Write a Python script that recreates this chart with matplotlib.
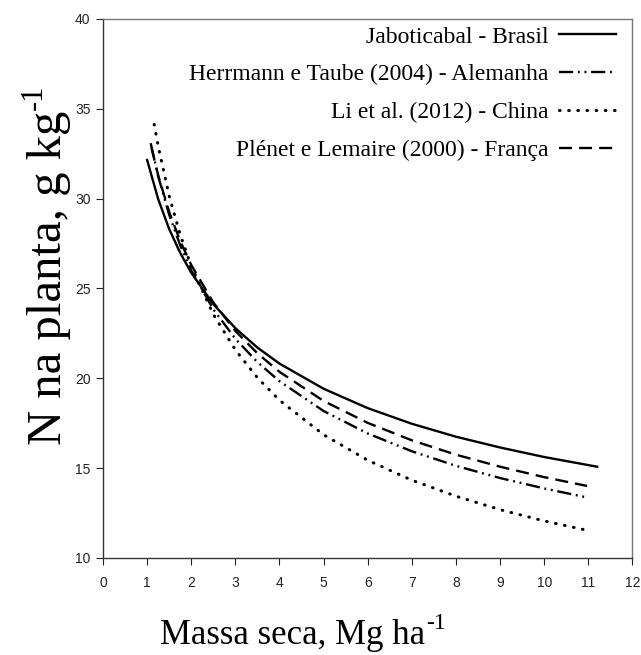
import matplotlib
matplotlib.use("Agg")
import matplotlib.pyplot as plt
from matplotlib.transforms import IdentityTransform

# Values
x_jab = [1.0, 1.25, 1.5, 1.75, 2, 2.5, 3, 3.5, 4, 5, 6, 7, 8, 9, 10, 11, 11.2]
y_jab = [32.15, 29.98, 28.31, 26.98, 25.87, 24.13, 22.79, 21.71, 20.82, 19.42,
         18.34, 17.47, 16.75, 16.15, 15.62, 15.17, 15.08]

x_her = [1.08, 1.25, 1.5, 1.75, 2, 2.5, 3, 3.5, 4, 5, 6, 7, 8, 9, 10, 10.97]
y_her = [33.09, 31.25, 29.10, 27.40, 26.01, 23.84, 22.20, 20.90, 19.84, 18.18,
         16.93, 15.94, 15.13, 14.45, 13.87, 13.37]

x_li = [1.16, 1.25, 1.5, 1.75, 2, 2.5, 3, 3.5, 4, 5, 6, 7, 8, 9, 10, 11.03]
y_li = [34.13, 32.93, 30.15, 27.99, 26.24, 23.56, 21.58, 20.03, 18.78, 16.86,
        15.44, 14.33, 13.44, 12.69, 12.06, 11.51]

x_ple = [1.1, 1.25, 1.5, 1.75, 2, 2.5, 3, 3.5, 4, 5, 6, 7, 8, 9, 10, 10.97]
y_ple = [32.82, 31.30, 29.26, 27.64, 26.31, 24.22, 22.64, 21.39, 20.36, 18.74,
         17.52, 16.55, 15.75, 15.08, 14.50, 14.01]

labels = ["Jaboticabal - Brasil",
          "Herrmann e Taube (2004) - Alemanha",
          "Li et al. (2012) - China",
          "Plénet e Lemaire (2000) - França"]

x_ticks = list(range(0, 13))
y_ticks = [10, 15, 20, 25, 30, 35, 40]

xlabel_main, xlabel_sup = "Massa seca, Mg ha", "-1"
ylabel_main, ylabel_sup = "N na planta, g kg", "-1"

fig = plt.figure(figsize=(6.41, 6.55), dpi=100)
ax = fig.add_axes([0.1607, 0.1481, 0.826, 0.8229])

ax.plot(x_jab, y_jab, color="black", lw=1.7, linestyle="-", label=labels[0])
ax.plot(x_her, y_her, color="black", lw=1.7,
        linestyle=(0, (6, 2, 0.8, 2, 0.8, 2)), label=labels[1])
ax.plot(x_li, y_li, color="black", lw=2.2, linestyle=(0, (0.2, 2.8)),
        dash_capstyle="round", label=labels[2])
ax.plot(x_ple, y_ple, color="black", lw=1.7, linestyle=(0, (5.5, 3.0)),
        label=labels[3])

ax.set_xlim(0, 12)
ax.set_ylim(10, 40)
ax.set_xticks(x_ticks)
ax.set_yticks(y_ticks)
ax.tick_params(axis="both", direction="out", length=5, width=0.8,
               labelsize=10, colors="#222222")
ax.tick_params(axis="x", pad=8)
ax.tick_params(axis="y", pad=4)
for lab in ax.get_xticklabels() + ax.get_yticklabels():
    lab.set_fontfamily("Liberation Sans")

for s in ["left", "bottom"]:
    ax.spines[s].set_color("#333333")
    ax.spines[s].set_linewidth(1.0)
for s in ["top", "right"]:
    ax.spines[s].set_color("#777777")
    ax.spines[s].set_linewidth(1.0)

leg = ax.legend(loc="upper right", bbox_to_anchor=(0.977, 0.9957), frameon=False,
                markerfirst=False, prop={"family": "Liberation Serif", "size": 17},
                handlelength=2.4, handletextpad=0.45, labelspacing=0.69,
                borderaxespad=0.0, borderpad=0.2)

renderer = fig.canvas.get_renderer()
ident = IdentityTransform()

# x label with superscript (pixel coordinates, origin bottom-left)
xm = fig.text(0, 0, xlabel_main, family="Liberation Serif", fontsize=25,
              ha="left", va="baseline", transform=ident)
xs = fig.text(0, 0, xlabel_sup, family="Liberation Serif", fontsize=17,
              ha="left", va="baseline", transform=ident)
wm = xm.get_window_extent(renderer).width
ws = xs.get_window_extent(renderer).width
center_x = 302
left = center_x - (wm + ws) / 2
base_y = 11
xm.set_position((left, base_y))
xs.set_position((left + wm + 1, base_y + 15))

# y label with superscript (rotated)
ym = fig.text(0, 0, ylabel_main, family="Liberation Serif", fontsize=35,
              ha="left", va="baseline", rotation=90, rotation_mode="anchor",
              transform=ident)
ys = fig.text(0, 0, ylabel_sup, family="Liberation Serif", fontsize=22,
              ha="left", va="baseline", rotation=90, rotation_mode="anchor",
              transform=ident)
hm = ym.get_window_extent(renderer).height
base_x = 61
start_y = 655 - 445
ym.set_position((base_x, start_y))
ys.set_position((base_x - 19, start_y + hm + 1))

fig.savefig("out.png", dpi=100)
